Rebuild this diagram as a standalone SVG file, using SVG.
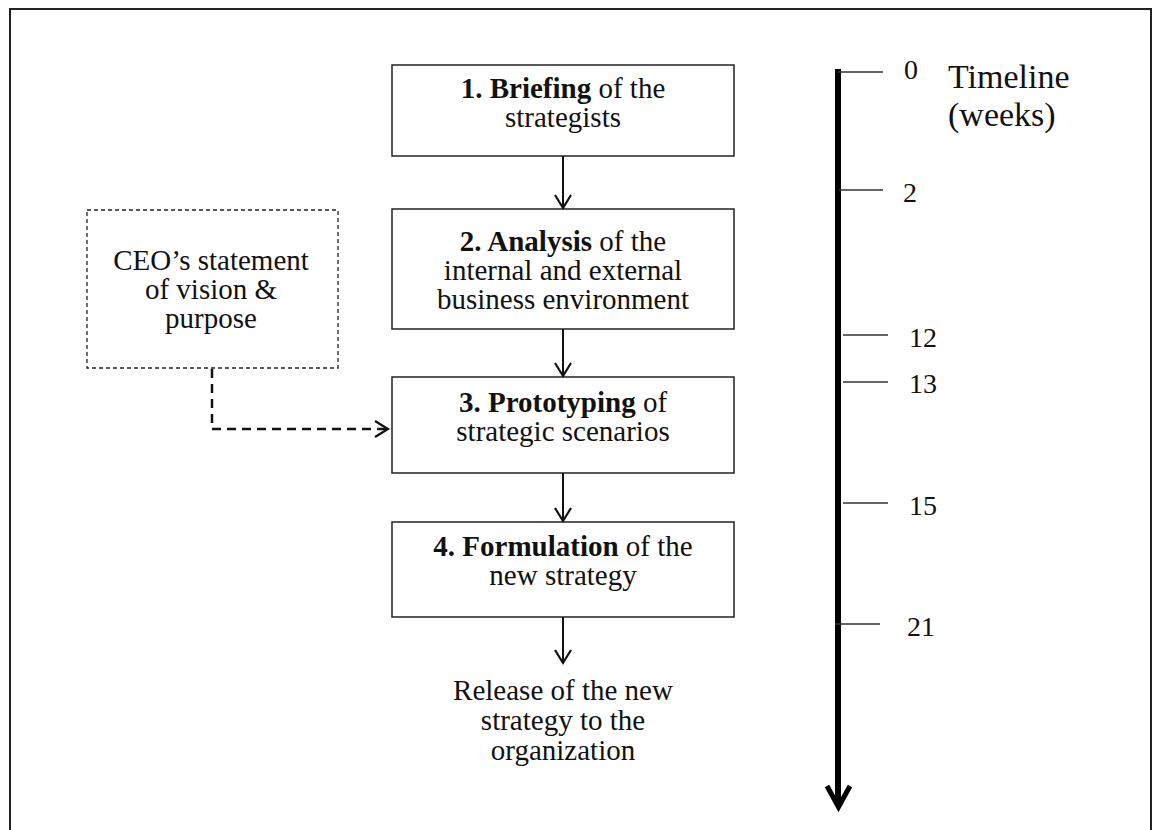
<svg xmlns="http://www.w3.org/2000/svg" width="1154" height="830" viewBox="0 0 1154 830">
<defs>
<style>
.t{font-family:"Liberation Serif","Times New Roman",serif;font-size:29px;fill:#111;text-anchor:middle}
.b{font-weight:bold}
.n{font-family:"Liberation Serif","Times New Roman",serif;font-size:28px;fill:#111}
.box{fill:#fff;stroke:#222;stroke-width:1.5}
.dbox{fill:#fff;stroke:#222;stroke-width:1.3;stroke-dasharray:4 3}
.arr{fill:none;stroke:#111;stroke-width:2}
.tick{stroke:#333;stroke-width:1.3}
</style>
<marker id="v" markerWidth="18" markerHeight="18" refX="14" refY="9" orient="auto" markerUnits="userSpaceOnUse">
<path d="M1,1 L14,9 L1,17" fill="none" stroke="#111" stroke-width="2.2"/>
</marker>
</defs>
<rect x="10" y="9" width="1141" height="830" fill="none" stroke="#222" stroke-width="2"/>

<g id="node1">
<rect class="box" x="392" y="65" width="342" height="91"/>
<text class="t" x="563" y="98"><tspan class="b">1. Briefing</tspan> of the</text>
<text class="t" x="563" y="127">strategists</text>
</g>
<g id="node2">
<rect class="box" x="392" y="209" width="342" height="120"/>
<text class="t" x="563" y="251"><tspan class="b">2. Analysis</tspan> of the</text>
<text class="t" x="563" y="280">internal and external</text>
<text class="t" x="563" y="309">business environment</text>
</g>
<g id="node3">
<rect class="box" x="392" y="377" width="342" height="96"/>
<text class="t" x="563" y="412"><tspan class="b">3. Prototyping</tspan> of</text>
<text class="t" x="563" y="441">strategic scenarios</text>
</g>
<g id="node4">
<rect class="box" x="392" y="522" width="342" height="95"/>
<text class="t" x="563" y="556"><tspan class="b">4. Formulation</tspan> of the</text>
<text class="t" x="563" y="585">new strategy</text>
</g>
<g id="release">
<text class="t" x="563" y="700">Release of the new</text>
<text class="t" x="563" y="730">strategy to the</text>
<text class="t" x="563" y="760">organization</text>
</g>
<g id="ceo">
<rect class="dbox" x="87" y="210" width="251" height="158"/>
<text class="t" x="211" y="270">CEO’s statement</text>
<text class="t" x="211" y="299">of vision &amp;</text>
<text class="t" x="211" y="328">purpose</text>
</g>

<g id="connectors">
<line class="arr" x1="563" y1="156" x2="563" y2="208" marker-end="url(#v)"/>
<line class="arr" x1="563" y1="329" x2="563" y2="376" marker-end="url(#v)"/>
<line class="arr" x1="563" y1="473" x2="563" y2="521" marker-end="url(#v)"/>
<line class="arr" x1="563" y1="617" x2="563" y2="663" marker-end="url(#v)"/>
<path d="M212,369 L212,429 L388,429" fill="none" stroke="#111" stroke-width="2.5" stroke-dasharray="9 6" marker-end="url(#v)"/>
</g>

<g id="timeline">
<line x1="838" y1="69" x2="838" y2="805" stroke="#000" stroke-width="6"/>
<path d="M827,786 L838.5,807 L850,786" fill="none" stroke="#000" stroke-width="5" stroke-linejoin="miter"/>
<line class="tick" x1="838" y1="72" x2="883" y2="72"/>
<line class="tick" x1="839" y1="190" x2="883" y2="190"/>
<line class="tick" x1="843" y1="335" x2="888" y2="335"/>
<line class="tick" x1="843" y1="382" x2="888" y2="382"/>
<line class="tick" x1="843" y1="503" x2="888" y2="503"/>
<line class="tick" x1="835" y1="624" x2="880" y2="624"/>
<text class="n" x="904" y="79">0</text>
<text class="n" x="903" y="202">2</text>
<text class="n" x="909" y="347">12</text>
<text class="n" x="909" y="393">13</text>
<text class="n" x="909" y="515">15</text>
<text class="n" x="907" y="636">21</text>
<text class="n" x="948" y="88" style="font-size:34px">Timeline</text>
<text class="n" x="948" y="126" style="font-size:34px">(weeks)</text>
</g>
</svg>
